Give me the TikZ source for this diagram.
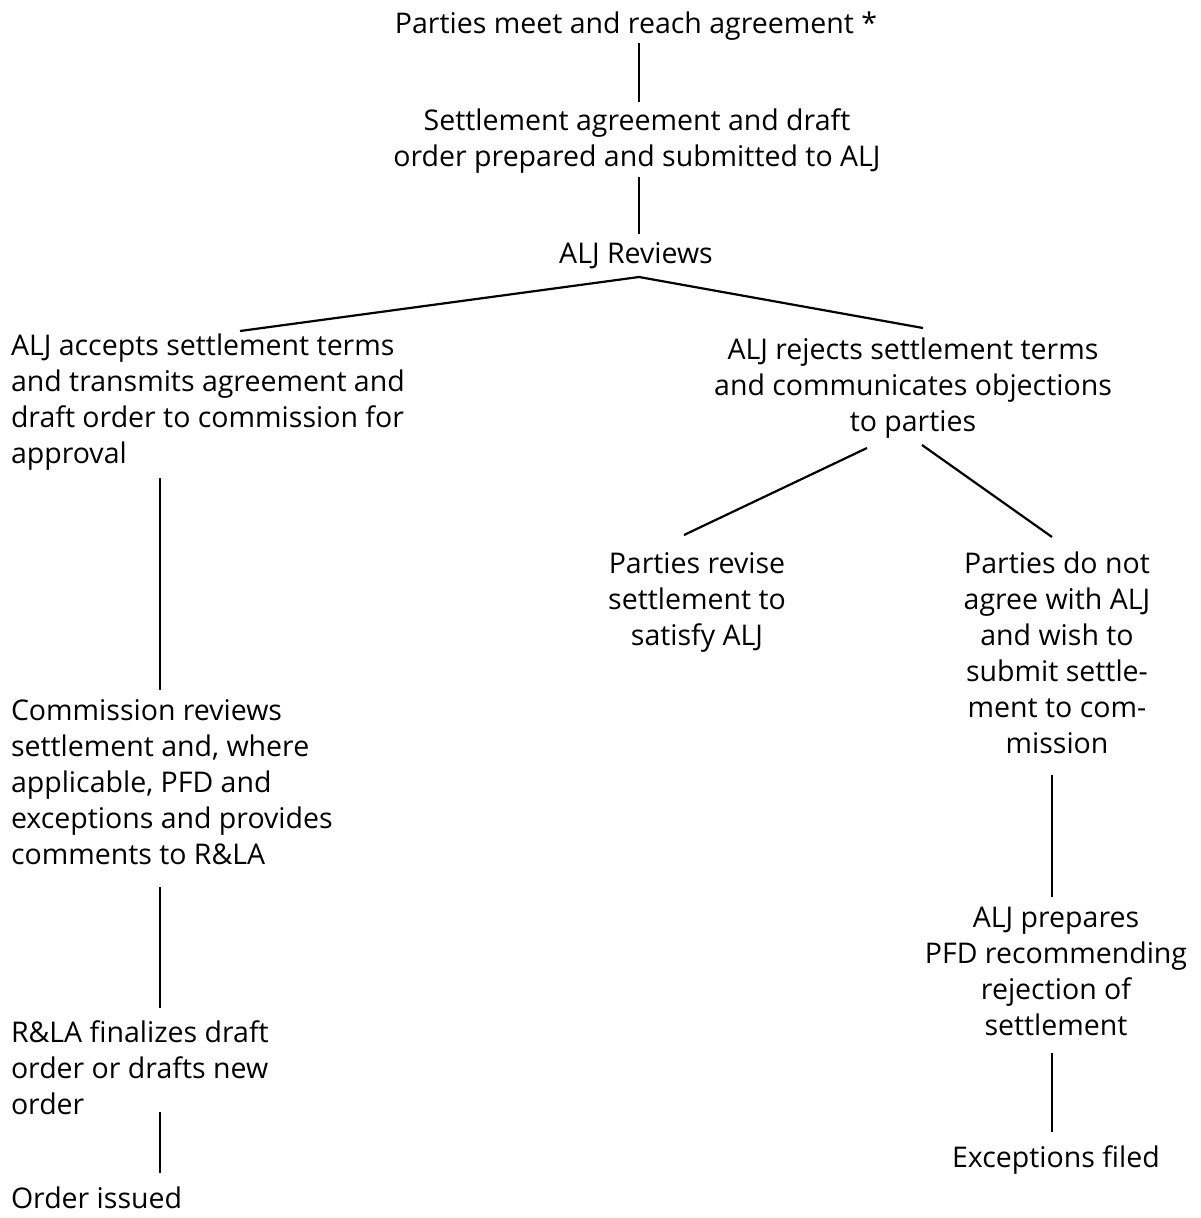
\documentclass[tikz,border=0pt]{standalone}
\usepackage{fontspec}
\setmainfont{Open Sans}[Ligatures=NoCommon]
\newcommand\sst{\rule[-8pt]{0pt}{32pt}}
\begin{document}
\begin{tikzpicture}[x=1pt,y=-1pt,
  lbl/.style={inner sep=0pt, outer sep=0pt, font=\fontsize{28.5}{36}\selectfont},
  ctr/.style={lbl, align=center, anchor=north},
  lft/.style={lbl, align=left, anchor=north west},
  conn/.style={line width=2.2pt}]
\useasboundingbox[fill=white] (0,0) rectangle (1200,1218);
% nodes
\node[ctr] (t1) at (636,9) {\sst Parties meet and reach agreement *};
\node[ctr] (t2) at (637,106) {\sst Settlement agreement and draft\\\sst order prepared and submitted to ALJ};
\node[ctr] (t3) at (636,239) {\sst ALJ Reviews};
\node[lft] (t4) at (11,331) {\sst ALJ accepts settlement terms\\\sst and transmits agreement and\\\sst draft order to commission for\\\sst approval};
\node[ctr] (t5) at (913,335) {\sst ALJ rejects settlement terms\\\sst and communicates objections\\\sst to parties};
\node[ctr] (t6) at (697,549) {\sst Parties revise\\\sst settlement to\\\sst satisfy ALJ};
\node[ctr] (t7) at (1057,549) {\sst Parties do not\\\sst agree with ALJ\\\sst and wish to\\\sst submit settle-\\\sst ment to com-\\\sst mission};
\node[ctr] (t8) at (1056,903) {\sst ALJ prepares\\\sst PFD recommending\\\sst rejection of\\\sst settlement};
\node[ctr] (t9) at (1056,1143) {\sst Exceptions filed};
\node[lft] (t10) at (11,696) {\sst Commission reviews\\\sst settlement and, where\\\sst applicable, PFD and\\\sst exceptions and provides\\\sst comments to R\&LA};
\node[lft] (t11) at (11,1018) {\sst R\&LA finalizes draft\\\sst order or drafts new\\\sst order};
\node[lft] (t12) at (11,1184) {\sst Order issued};
% connectors
\draw[conn] ([xshift=3pt,yshift=-2pt]t1.south) -- ([xshift=2pt,yshift=4pt]t2.north);
\draw[conn] ([xshift=2pt,yshift=-3pt]t2.south) -- ([xshift=3pt,yshift=5pt]t3.north);
\draw[conn] ([xshift=229pt]t4.north west) -- ([xshift=3pt,yshift=-6pt]t3.south) -- ([xshift=10pt,yshift=7pt]t5.north);
\draw[conn] ([xshift=-46pt,yshift=-9pt]t5.south) -- ([xshift=-13pt,yshift=14pt]t6.north);
\draw[conn] ([xshift=9pt,yshift=-6pt]t5.south) -- ([xshift=-5pt,yshift=12pt]t7.north);
\draw[conn] ([xshift=-5pt,yshift=-14pt]t7.south) -- ([xshift=-4pt,yshift=6pt]t8.north);
\draw[conn] ([xshift=-4pt,yshift=-10pt]t8.south) -- ([xshift=-4pt,yshift=11pt]t9.north);
\draw[conn] ([xshift=149pt,yshift=-7pt]t4.south west) -- ([xshift=149pt,yshift=6pt]t10.north west);
\draw[conn] ([xshift=149pt,yshift=-15pt]t10.south west) -- ([xshift=149pt,yshift=10pt]t11.north west);
\draw[conn] ([xshift=149pt,yshift=10pt]t11.south west) -- ([xshift=149pt,yshift=11pt]t12.north west);
\end{tikzpicture}
\end{document}
